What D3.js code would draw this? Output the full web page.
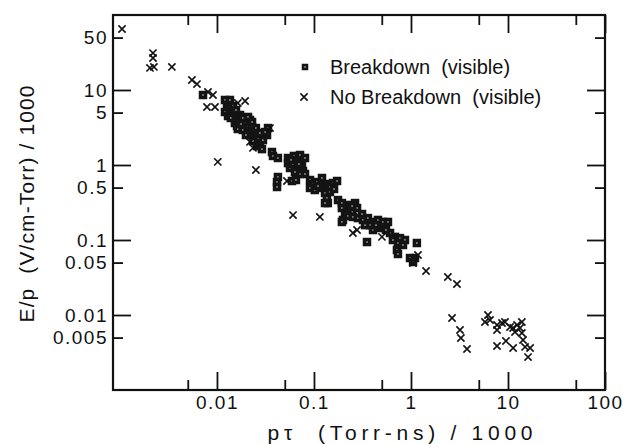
<!DOCTYPE html>
<html><head><meta charset="utf-8">
<script src="https://cdn.jsdelivr.net/npm/d3@7"></script>
<style>
body{margin:0;background:#fff;}
svg{display:block;}
text{font-family:"Liberation Sans",Arial,sans-serif;fill:#111;}
</style>
</head><body>
<svg id="chart" width="640" height="444"></svg>
<script>
// ---- data ----
const breakdownX = [0.00718,0.0121,0.0127,0.0121,0.0130,0.0146,0.0136,0.0161,0.0173,0.0173,
  0.0195,0.0219,0.0153,0.0161,0.0181,0.0204,0.0230,0.0164,0.0185,0.0209,
  0.0219,0.0240,0.0246,0.0265,0.0235,0.0258,0.0277,0.0298,0.0328,0.0336,
  0.0313,0.0291,0.0369,0.0378,0.0425,0.0540,0.0540,0.0566,0.0608,0.0669,
  0.0718,0.0808,0.0752,0.0669,0.0770,0.0622,0.0425,0.0416,0.0416,0.0593,
  0.0652,0.0718,0.0808,0.0910,0.0977,0.107,0.121,0.130,0.115,0.0910,
  0.102,0.139,0.157,0.173,0.130,0.136,0.139,0.130,0.177,0.194,
  0.219,0.235,0.265,0.278,0.247,0.219,0.194,0.209,0.224,0.199,
  0.252,0.284,0.320,0.360,0.406,0.457,0.514,0.579,0.378,0.406,
  0.457,0.514,0.194,0.608,0.684,0.770,0.867,0.734,0.827,0.352,
  1.15,0.717,0.734,0.977,1.10,1.05,0.146,
  0.0136,0.0146,0.0157,0.0185,0.0209,0.0230,0.0139,0.0199,0.0177,0.0252,0.0277,
  0.0580,0.0700,0.0637,0.110,0.146,0.161,
  0.247,0.313,0.436,0.552,0.336,0.652];
const breakdownY = [8.58,7.36,6.31,5.09,4.50,4.94,5.75,4.24,4.64,3.74,
  3.74,3.98,3.63,3.31,3.21,3.21,3.21,3.02,2.93,2.84,
  2.67,2.59,2.36,2.22,2.09,1.79,1.96,2.15,2.51,3.11,
  2.75,1.63,1.49,1.32,1.24,1.24,1.06,0.912,1.03,1.17,
  1.36,1.24,1.0,0.884,0.832,1.32,0.692,0.593,0.509,0.612,
  0.631,0.759,0.759,0.631,0.558,0.593,0.671,0.558,0.494,0.494,
  0.464,0.509,0.575,0.612,0.424,0.363,0.311,0.311,0.341,0.311,
  0.275,0.293,0.311,0.267,0.236,0.236,0.267,0.222,0.209,0.185,
  0.203,0.196,0.185,0.196,0.174,0.185,0.174,0.174,0.158,0.136,
  0.145,0.145,0.174,0.124,0.110,0.106,0.100,0.0912,0.0858,0.0940,
  0.0912,0.0736,0.0651,0.0575,0.0575,0.0509,0.509,
  7.36,6.12,5.41,4.24,4.37,3.74,4.24,2.51,3.52,3.11,2.67,
  1.17,1.03,0.807,0.525,0.437,0.479,
  0.284,0.222,0.158,0.136,0.158,0.100];
const noBreakdownX = [0.00105,0.00219,0.00219,0.00204,0.00224,0.00343,0.00552,0.00622,0.00808,0.00910,
  0.00789,0.00954,0.0164,0.0195,0.0102,0.0219,0.0235,0.0252,0.0352,0.0527,
  0.0608,0.115,0.252,0.278,0.502,1.18,1.05,1.43,2.40,2.98,
  2.65,3.20,3.27,3.78,6.22,5.79,6.52,7.71,7.71,8.68,
  9.31,10.5,11.3,12.4,13.9,13.3,11.8,13.9,14.3,7.71,
  9.53,11.3,15.0,16.9,16.1];
const noBreakdownY = [65.1,31.1,26.7,19.7,20.3,20.3,13.6,12.0,9.40,8.58,
  5.94,5.94,6.71,7.13,1.10,2.03,1.69,0.858,3.11,0.612,
  0.215,0.203,0.124,0.136,0.110,0.0631,0.0494,0.0386,0.0321,0.0259,
  0.00912,0.00631,0.00494,0.00352,0.0100,0.00807,0.00858,0.00736,0.00631,0.00782,
  0.00807,0.00692,0.00671,0.00736,0.00807,0.00671,0.00593,0.00575,0.00464,0.00386,
  0.00450,0.00363,0.00375,0.00363,0.00275];
const xMajorTicks = [0.01,0.1,1,10,100];
const xTickLabels = ["0.01","0.1","1","10","100"];
const xMinorTicks = [0.005,0.05,0.5,5,50];
const yMajorTicks = [10,1,0.1,0.01];
const yMinorTicks = [50,5,0.5,0.05,0.005];
const yTickValues = [50,10,5,1,0.5,0.1,0.05,0.01,0.005];
const yTickLabels = ["50","10","5","1","0.5","0.1","0.05","0.01","0.005"];
const legendLabels = ["Breakdown  (visible)","No Breakdown  (visible)"];
const xTitle = "p\u03C4  (Torr-ns) / 1000";
const yTitle = "E/p  (V/cm-Torr) / 1000";

// ---- layout ----
const L = 113, R = 605, T = 15, B = 390;
const svg = d3.select("#chart");
svg.append("rect").attr("width",640).attr("height",444).attr("fill","#fff");

const x = d3.scaleLog().domain([0.000848,100]).range([L,R]);
const y = d3.scaleLog().domain([0.001,100]).range([B,T]);

const ink = "#111";
function clean(g){ g.select(".domain").remove(); g.selectAll(".tick line").attr("stroke",ink).attr("stroke-width",1.8); }

// tick marks (inward, mirrored)
svg.append("g").attr("transform",`translate(0,${B})`).call(d3.axisBottom(x).tickValues(xMajorTicks).tickSize(-18).tickFormat("")).call(clean);
svg.append("g").attr("transform",`translate(0,${B})`).call(d3.axisBottom(x).tickValues(xMinorTicks).tickSize(-10).tickFormat("")).call(clean);
svg.append("g").attr("transform",`translate(0,${T})`).call(d3.axisTop(x).tickValues(xMajorTicks).tickSize(-18).tickFormat("")).call(clean);
svg.append("g").attr("transform",`translate(0,${T})`).call(d3.axisTop(x).tickValues(xMinorTicks).tickSize(-10).tickFormat("")).call(clean);
svg.append("g").attr("transform",`translate(${L},0)`).call(d3.axisLeft(y).tickValues(yMajorTicks).tickSize(-18).tickFormat("")).call(clean);
svg.append("g").attr("transform",`translate(${L},0)`).call(d3.axisLeft(y).tickValues(yMinorTicks).tickSize(-10).tickFormat("")).call(clean);
svg.append("g").attr("transform",`translate(${R},0)`).call(d3.axisRight(y).tickValues(yMajorTicks).tickSize(-18).tickFormat("")).call(clean);
svg.append("g").attr("transform",`translate(${R},0)`).call(d3.axisRight(y).tickValues(yMinorTicks).tickSize(-10).tickFormat("")).call(clean);

// tick labels
const xl = svg.append("g").attr("transform",`translate(0,${B})`)
  .call(d3.axisBottom(x).tickValues(xMajorTicks).tickSize(0).tickPadding(6).tickFormat((d,i)=>xTickLabels[i]));
xl.select(".domain").remove();
xl.selectAll("text").attr("font-size",19).attr("font-family",'"Liberation Sans",Arial,sans-serif').attr("fill",ink).attr("letter-spacing","1.5px");
const yl = svg.append("g").attr("transform",`translate(${L},0)`)
  .call(d3.axisLeft(y).tickValues(yTickValues).tickSize(0).tickPadding(5).tickFormat((d,i)=>yTickLabels[i]));
yl.select(".domain").remove();
yl.selectAll("text").attr("font-size",19).attr("font-family",'"Liberation Sans",Arial,sans-serif').attr("fill",ink).attr("letter-spacing","1.5px");

// frame
svg.append("rect").attr("x",L).attr("y",T).attr("width",R-L).attr("height",B-T)
  .attr("fill","none").attr("stroke",ink).attr("stroke-width",2.2);

// axis titles
svg.append("text").attr("x",400).attr("y",440).attr("text-anchor","middle")
  .attr("font-size",21).attr("textLength",265).attr("lengthAdjust","spacing")
  .style("white-space","pre").text(xTitle);
svg.append("text").attr("transform","translate(34,204) rotate(-90)").attr("text-anchor","middle")
  .attr("font-size",21).attr("textLength",237).attr("lengthAdjust","spacing")
  .style("white-space","pre").text(yTitle);

// markers
function square(g, s){
  s = s || 8.5;
  g.append("rect").attr("x",-s/2).attr("y",-s/2).attr("width",s).attr("height",s).attr("fill","#141414");
  g.append("rect").attr("x",-0.6).attr("y",-0.6).attr("width",1.2).attr("height",1.2).attr("fill","#fff");
}
function cross(g){
  g.append("path").attr("d","M-3.6,-3.6L3.6,3.6M-3.6,3.6L3.6,-3.6").attr("stroke",ink).attr("stroke-width",1.6).attr("fill","none");
}
const bData = breakdownX.map((v,i)=>({x:v,y:breakdownY[i]}));
const nData = noBreakdownX.map((v,i)=>({x:v,y:noBreakdownY[i]}));
svg.append("g").selectAll("g").data(bData).join("g")
  .attr("transform",d=>`translate(${x(d.x)},${y(d.y)})`).each(function(){square(d3.select(this));});
svg.append("g").selectAll("g").data(nData).join("g")
  .attr("transform",d=>`translate(${x(d.x)},${y(d.y)})`).each(function(){cross(d3.select(this));});

// legend
const lg = svg.append("g");
const l1 = lg.append("g").attr("transform","translate(305,67)"); square(l1, 6.5);
const l2 = lg.append("g").attr("transform","translate(304,97)"); cross(l2);
lg.append("text").attr("x",330).attr("y",74).attr("font-size",20).style("white-space","pre").text(legendLabels[0]);
lg.append("text").attr("x",330).attr("y",104).attr("font-size",20).style("white-space","pre").text(legendLabels[1]);
</script>
</body></html>
